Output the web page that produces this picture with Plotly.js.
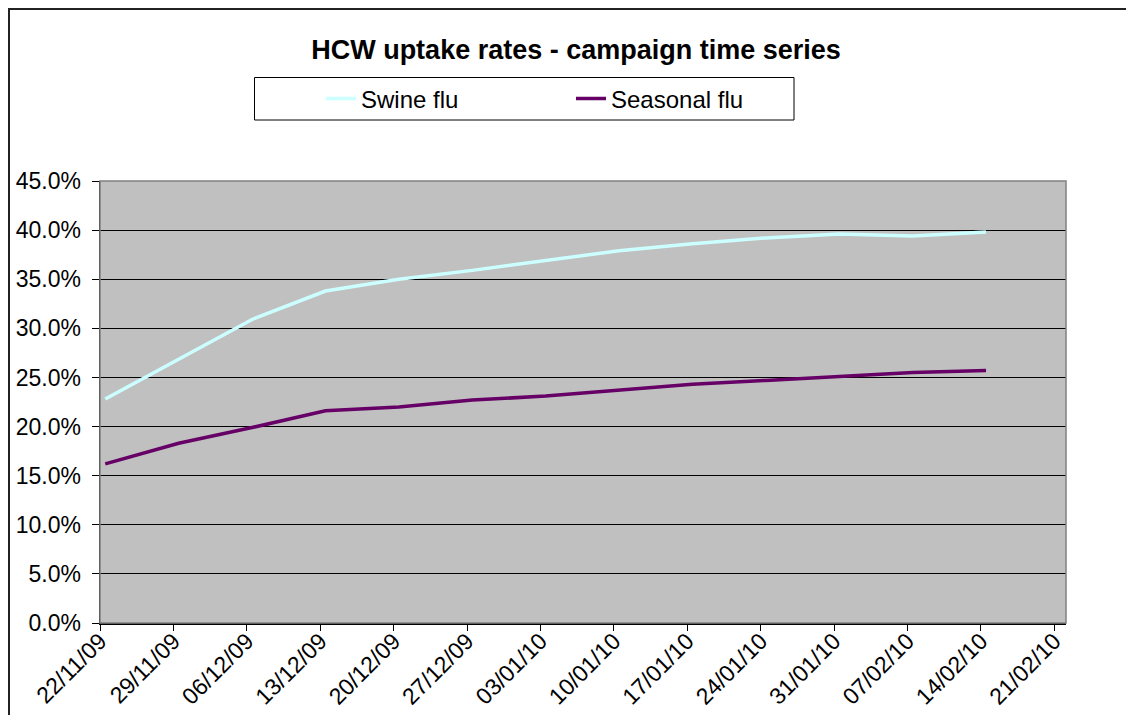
<!DOCTYPE html>
<html>
<head>
<meta charset="utf-8">
<script src="https://cdn.plot.ly/plotly-3.0.1.min.js"></script>
<style>
  html, body { margin: 0; padding: 0; background: #fff; overflow: hidden; }
  #wrap { position: relative; width: 1126px; height: 715px; }
  #chart { position: absolute; left: 0; top: 0; width: 1126px; height: 715px; }
  #frame { position: absolute; left: 8px; top: 8px; width: 1200px; height: 800px;
           border-left: 2px solid #222; border-top: 2px solid #222; pointer-events: none; }
</style>
</head>
<body>
<div id="wrap">
  <div id="chart"></div>
  <div id="frame"></div>
</div>
<script>
// Weekly campaign dates (Sundays)
const weekDates = ['2009-11-22','2009-11-29','2009-12-06','2009-12-13','2009-12-20','2009-12-27',
                   '2010-01-03','2010-01-10','2010-01-17','2010-01-24','2010-01-31','2010-02-07','2010-02-14'];
// Uptake rates (fraction)
const swineFlu    = [0.228, 0.269, 0.309, 0.338, 0.350, 0.359, 0.369, 0.379, 0.386, 0.392, 0.396, 0.394, 0.398];
const seasonalFlu = [0.162, 0.183, 0.199, 0.216, 0.220, 0.227, 0.231, 0.237, 0.243, 0.247, 0.251, 0.255, 0.257];
const seriesNames = ['Swine flu', 'Seasonal flu'];
const chartTitle = 'HCW uptake rates - campaign time series';

// Excel date axis places each point in the middle of its day
const xs = weekDates.map(d => d + ' 12:00');

const FONT = 'Liberation Sans, Arial, sans-serif';

const traces = [
  { x: xs, y: swineFlu, name: seriesNames[0], type: 'scatter', mode: 'lines',
    line: { color: '#CCFFFF', width: 3.5 } },
  { x: xs, y: seasonalFlu, name: seriesNames[1], type: 'scatter', mode: 'lines',
    line: { color: '#660066', width: 3.5 } }
];

const ML = 100, MR = 60, MT = 181, MB = 92;
const PW = 1126 - ML - MR, PH = 715 - MT - MB;
const px2x = p => (p - ML) / PW;
const px2y = p => (715 - MB - p) / PH;

const layout = {
  width: 1126, height: 715,
  margin: { l: ML, r: MR, t: MT, b: MB, pad: 0 },
  paper_bgcolor: 'rgba(0,0,0,0)',
  plot_bgcolor: '#C0C0C0',
  font: { family: FONT, size: 23, color: '#000' },
  title: { text: '<b>' + chartTitle + '</b>', font: { family: FONT, size: 27, color: '#000' },
           x: px2x(576), xref: 'paper', xanchor: 'center', y: 1 - 50 / 715, yref: 'container', yanchor: 'middle' },
  showlegend: true,
  legend: { orientation: 'h', x: px2x(321), xanchor: 'left', y: px2y(99), yanchor: 'middle',
            bgcolor: 'rgba(0,0,0,0)', borderwidth: 0, font: { family: FONT, size: 24, color: '#000' },
            entrywidth: 205, entrywidthmode: 'pixels', traceorder: 'normal' },
  xaxis: {
    type: 'date', range: ['2009-11-22', '2010-02-22 03:00'],
    tick0: '2009-11-22', dtick: 7 * 24 * 3600 * 1000, tickformat: '%d/%m/%y',
    tickangle: -45, ticks: 'outside', ticklen: 6, tickcolor: '#000', tickwidth: 1,
    showline: true, linecolor: '#000', linewidth: 1.5, showgrid: false, zeroline: false,
    ticklabelstandoff: -12,
    tickfont: { family: FONT, size: 23, color: '#000' }, fixedrange: true
  },
  yaxis: {
    range: [0, 0.45], dtick: 0.05, tickformat: '.1%',
    ticks: 'outside', ticklen: 7, tickcolor: '#000', tickwidth: 1,
    showline: true, linecolor: '#000', linewidth: 1.5,
    showgrid: true, gridcolor: '#000', gridwidth: 1, zeroline: false,
    ticklabelstandoff: 6,
    tickfont: { family: FONT, size: 23, color: '#000' }, fixedrange: true
  },
  shapes: [
    { type: 'rect', xref: 'paper', yref: 'paper', x0: 0, x1: 1, y0: 0, y1: 1,
      line: { color: '#808080', width: 1.5 }, fillcolor: 'rgba(0,0,0,0)', layer: 'above' },
    { type: 'rect', xref: 'paper', yref: 'paper', x0: px2x(254.5), x1: px2x(794), y0: px2y(120), y1: px2y(77.5),
      line: { color: '#000', width: 1 }, fillcolor: '#fff', layer: 'below' }
  ]
};

Plotly.newPlot('chart', traces, layout, { staticPlot: true, displayModeBar: false });
</script>
</body>
</html>
